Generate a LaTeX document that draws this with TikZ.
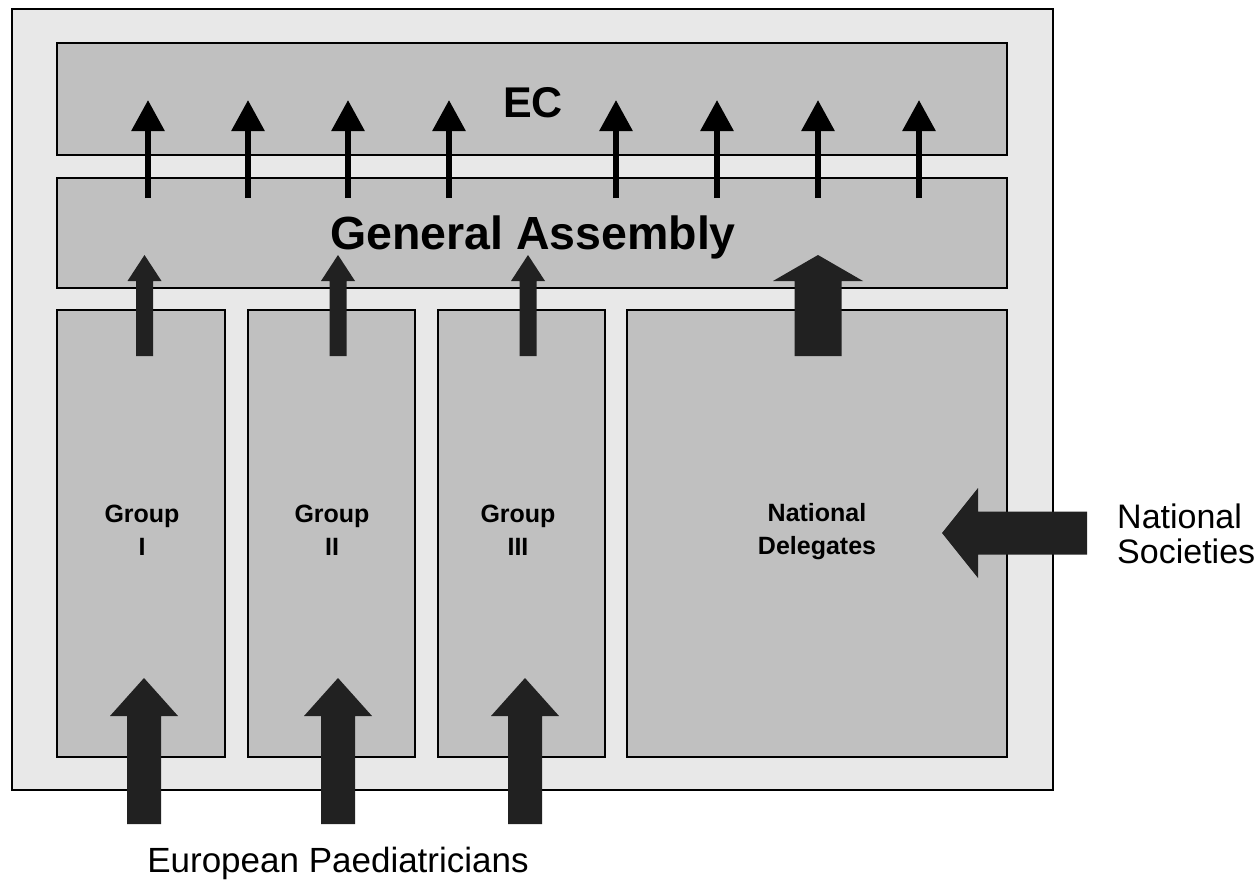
\documentclass[tikz,border=0pt]{standalone}
\usepackage{fontspec}
\setmainfont{Liberation Sans}
\usetikzlibrary{arrows.meta}
\definecolor{outerfill}{HTML}{E8E8E8}
\definecolor{boxfill}{HTML}{C0C0C0}
\definecolor{arrowfill}{HTML}{212121}
% up-pointing block arrow: x, tip y, head base y, bottom y, half head, half shaft
\newcommand\upblock[6]{%
  \fill[arrowfill] ({#1-#6},#4) -- ({#1-#6},#3) -- ({#1-#5},#3) -- (#1,#2)
    -- ({#1+#5},#3) -- ({#1+#6},#3) -- ({#1+#6},#4) -- cycle;}
\begin{document}
\begin{tikzpicture}[x=1pt,y=-1pt,
  outerbox/.style={draw, line width=2.5pt, fill=outerfill, inner sep=0pt, outer sep=0pt},
  innerbox/.style={draw, line width=1.8pt, fill=boxfill, inner sep=0pt, outer sep=0pt},
  bigtitle/.style={font=\bfseries\fontsize{46.5}{50}\selectfont, inner sep=0pt, anchor=base},
  grouplabel/.style={font=\bfseries\fontsize{25}{33}\selectfont, align=center, inner sep=0pt, anchor=base},
  outlabel/.style={font=\fontsize{35}{35}\selectfont, inner sep=0pt, anchor=base},
  thinarrow/.style={line width=6pt, -{Triangle[width=32pt,length=31pt]}}]
\useasboundingbox (0,0) rectangle (1260,886);
% outer frame
\node[outerbox, minimum width=1041pt, minimum height=781pt] (frame) at (532.5,399.5) {};
% boxes
\node[innerbox, minimum width=950pt, minimum height=112pt] (ec) at (532,99) {};
\node[innerbox, minimum width=950pt, minimum height=110pt] (ga) at (532,233) {};
\node[innerbox, minimum width=168pt, minimum height=447pt] (g1) at (141,533.5) {};
\node[innerbox, minimum width=167pt, minimum height=447pt] (g2) at (331.5,533.5) {};
\node[innerbox, minimum width=167pt, minimum height=447pt] (g3) at (521.5,533.5) {};
\node[innerbox, minimum width=380pt, minimum height=447pt] (nd) at (817,533.5) {};
% titles
\node[bigtitle, font=\bfseries\fontsize{43}{48}\selectfont] (ectext) at (533,117) {EC};
\node[bigtitle] (gatext) at (533,249) {General Assembly};
% thin arrows GA -> EC
\foreach \x [count=\i] in {148,248,348,449,616,717,818,919}{
  \coordinate (t\i) at (\x,198);
  \coordinate (h\i) at (\x,100);
  \draw[thinarrow] (t\i) -- (h\i);
}
% group -> GA arrows
\upblock{144.5}{255}{281}{356}{17}{8.5}
\upblock{338}{255}{281}{356}{17}{8.5}
\upblock{528}{255}{281}{356}{17}{8.5}
\upblock{818}{255}{281}{356}{45}{23.5}
% bottom arrows
\upblock{144}{678}{716}{824}{34}{17}
\upblock{338}{678}{716}{824}{34}{17}
\upblock{525}{678}{716}{824}{34}{17}
% National societies arrow (left)
\fill[arrowfill] (1087,511.5) -- (978,511.5) -- (978,488) -- (942,533) -- (978,578)
  -- (978,554.5) -- (1087,554.5) -- cycle;
% labels
\node[grouplabel] (g1t) at (142,555) {Group\\I};
\node[grouplabel] (g2t) at (332,555) {Group\\II};
\node[grouplabel] (g3t) at (518,555) {Group\\III};
\node[grouplabel] (ndt) at (817,554) {National\\Delegates};
\node[outlabel, font=\fontsize{34}{35}\selectfont, align=left, anchor=base west] (ns) at (1117,563) {National\\Societies};
\node[outlabel] (ep) at (338,872) {European Paediatricians};
\end{tikzpicture}
\end{document}
